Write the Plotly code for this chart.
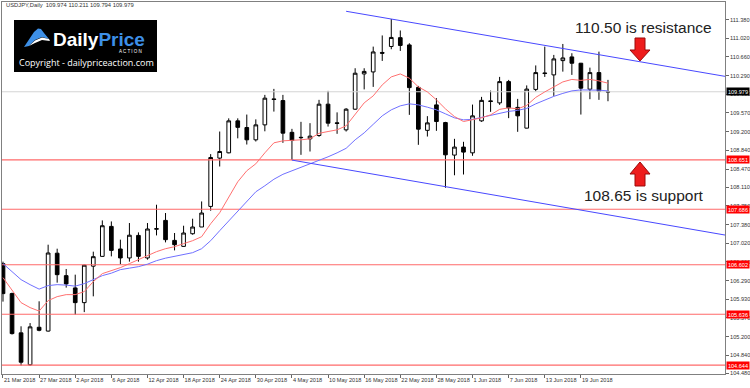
import plotly.graph_objects as go

# ---------------- data ----------------
dates = ["2018-03-21","2018-03-22","2018-03-23","2018-03-26","2018-03-27","2018-03-28","2018-03-29","2018-03-30",
         "2018-04-02","2018-04-03","2018-04-04","2018-04-05","2018-04-06","2018-04-09","2018-04-10","2018-04-11",
         "2018-04-12","2018-04-13","2018-04-16","2018-04-17","2018-04-18","2018-04-19","2018-04-20","2018-04-23",
         "2018-04-24","2018-04-25","2018-04-26","2018-04-27","2018-04-30","2018-05-01","2018-05-02","2018-05-03",
         "2018-05-04","2018-05-07","2018-05-08","2018-05-09","2018-05-10","2018-05-11","2018-05-14","2018-05-15",
         "2018-05-16","2018-05-17","2018-05-18","2018-05-21","2018-05-22","2018-05-23","2018-05-24","2018-05-25",
         "2018-05-28","2018-05-29","2018-05-30","2018-05-31","2018-06-01","2018-06-04","2018-06-05","2018-06-06",
         "2018-06-07","2018-06-08","2018-06-11","2018-06-12","2018-06-13","2018-06-14","2018-06-15","2018-06-18",
         "2018-06-19","2018-06-20","2018-06-21","2018-06-22"]

open_ = [106.624,106.039,105.273,104.650,105.382,105.308,106.828,106.390,106.150,105.863,106.575,106.766,
         107.351,106.910,106.735,107.175,106.735,107.296,107.468,107.078,106.961,107.208,107.339,107.741,
         108.684,108.787,109.411,109.281,109.041,109.333,109.840,109.807,109.187,109.090,109.060,109.125,
         109.737,109.372,109.236,109.639,110.327,110.366,110.746,110.863,111.035,110.893,110.064,109.226,
         109.723,109.378,108.743,108.899,108.787,109.411,109.801,109.762,110.177,109.674,109.269,110.025,
         110.347,110.308,110.587,110.659,110.536,110.029,110.353,109.974]
high = [106.663,106.058,105.401,105.464,105.889,106.994,106.916,106.520,106.409,106.604,106.858,107.468,
        107.448,107.092,107.417,107.234,107.417,107.774,107.612,107.222,107.364,107.501,107.838,108.762,
        109.203,109.460,109.460,109.534,109.440,109.918,110.035,109.918,109.255,109.392,109.366,109.821,
        109.996,109.577,109.659,110.438,110.438,110.860,111.078,111.399,111.175,110.926,110.093,109.503,
        109.854,109.392,109.060,109.002,109.729,109.879,110.002,110.269,110.210,109.840,110.103,110.493,
        110.860,110.698,110.912,110.731,110.542,110.450,110.762,110.211]
low = [105.883,105.240,104.635,104.630,105.304,105.298,106.253,106.156,105.630,105.678,105.986,106.760,
       106.766,106.614,106.663,106.663,106.702,107.175,107.039,106.883,106.955,107.189,107.339,107.657,
       108.520,108.778,109.070,108.949,109.008,109.207,109.592,108.982,108.645,108.748,108.813,109.099,
       109.300,109.158,109.203,109.626,110.025,110.074,110.581,110.809,110.776,109.528,108.943,109.105,
       109.216,108.105,108.349,108.364,108.729,109.392,109.587,109.723,109.464,109.197,109.265,109.986,
       110.269,109.899,110.372,110.308,109.534,109.834,109.821,109.794]
close = [106.039,105.259,104.700,105.390,105.323,106.832,106.409,106.228,105.863,106.594,106.760,107.364,
         106.883,106.735,107.179,106.766,107.300,107.306,107.092,106.994,107.222,107.339,107.612,108.696,
         108.813,109.411,109.284,109.041,109.333,109.854,109.828,109.171,109.027,109.084,109.113,109.737,
         109.366,109.362,109.639,110.341,110.376,110.756,110.731,111.039,110.883,110.060,109.249,109.372,
         109.398,108.748,108.899,108.801,109.509,109.811,109.791,110.177,109.665,109.509,110.031,110.353,
         110.335,110.620,110.639,110.536,110.049,110.353,109.990,109.979]

ma_fast = [106.351,106.097,105.863,105.766,105.698,105.902,105.980,106.019,106.019,106.078,106.273,106.429,
           106.487,106.546,106.624,106.702,106.780,106.858,106.916,106.955,107.014,107.072,107.150,107.403,
           107.618,107.910,108.222,108.437,108.573,108.787,108.982,109.021,109.027,109.041,109.060,109.168,
           109.203,109.236,109.314,109.528,109.762,109.899,110.113,110.269,110.327,110.244,110.074,109.976,
           109.821,109.645,109.495,109.398,109.431,109.470,109.528,109.635,109.665,109.645,109.713,109.869,
           109.976,110.074,110.171,110.220,110.201,110.220,110.191,110.146]
ma_slow = [106.624,106.468,106.312,106.214,106.127,106.195,106.214,106.205,106.185,106.234,106.312,106.390,
           106.438,106.507,106.536,106.565,106.614,106.682,106.731,106.766,106.799,106.838,106.916,107.072,
           107.267,107.462,107.657,107.852,108.027,108.144,108.271,108.368,108.437,108.495,108.563,108.641,
           108.709,108.787,108.875,109.041,109.177,109.343,109.509,109.626,109.704,109.743,109.723,109.678,
           109.626,109.548,109.470,109.431,109.440,109.479,109.518,109.561,109.596,109.616,109.655,109.743,
           109.821,109.889,109.947,109.996,110.015,110.015,110.010,109.996]

levels = [108.651, 107.686, 106.602, 105.636, 104.644]
last_price = 109.979

channel_upper_x = [38, 82]
channel_upper_y = [111.55, 110.218]
channel_lower_x = [32, 82]
channel_lower_y = [108.645, 107.12]

tick_idx = [0, 4, 8, 12, 16, 20, 24, 28, 32, 36, 40, 44, 48, 52, 56, 60, 64]
tick_labels = ["21 Mar 2018", "27 Mar 2018", "2 Apr 2018", "6 Apr 2018", "12 Apr 2018", "18 Apr 2018",
               "24 Apr 2018", "30 Apr 2018", "4 May 2018", "10 May 2018", "16 May 2018", "22 May 2018",
               "28 May 2018", "1 Jun 2018", "7 Jun 2018", "13 Jun 2018", "19 Jun 2018"]
price_ticks = [111.380, 111.020, 110.660, 110.290, 109.930, 109.570, 109.200, 108.840, 108.470, 108.110,
               107.750, 107.380, 107.020, 106.660, 106.290, 105.930, 105.570, 105.200, 104.840, 104.480]

header = "USDJPY,Daily  109.974 110.211 109.794 109.979"

# ---------------- figure ----------------
W, H = 750, 388
ML, MR, MT, MB = 2, 25, 2, 14
PW, PH = W - ML - MR, H - MT - MB

def px(x):
    return (x - ML) / PW

def py(y):
    return 1 - (y - MT) / PH

def path(points):
    s = "M " + " L ".join(f"{px(a):.5f},{py(b):.5f}" for a, b in points) + " Z"
    return s

xi = list(range(len(dates)))
FONT = "Liberation Sans, Arial, sans-serif"
RED = "#ff6a6a"

fig = go.Figure()

for lv in levels:
    fig.add_trace(go.Scatter(x=[-2, 85], y=[lv, lv], mode="lines",
                             line=dict(color=RED, width=1.2), hoverinfo="skip"))
fig.add_trace(go.Scatter(x=[-2, 85], y=[last_price, last_price], mode="lines",
                         line=dict(color="#d4d4d4", width=1.2), hoverinfo="skip"))
fig.add_trace(go.Scatter(x=xi, y=ma_slow, mode="lines", line=dict(color="#7070ff", width=1)))
fig.add_trace(go.Scatter(x=xi, y=ma_fast, mode="lines", line=dict(color="#ff7070", width=1)))
fig.add_trace(go.Scatter(x=channel_upper_x, y=channel_upper_y, mode="lines", line=dict(color="#4848ff", width=1)))
fig.add_trace(go.Scatter(x=channel_lower_x, y=channel_lower_y, mode="lines", line=dict(color="#4848ff", width=1)))

fig.add_trace(go.Candlestick(
    x=xi, open=open_, high=high, low=low, close=close,
    increasing=dict(line=dict(color="#000000", width=1), fillcolor="#ffffff"),
    decreasing=dict(line=dict(color="#000000", width=1), fillcolor="#000000"),
    whiskerwidth=0,
))

fig.update_layout(
    width=W, height=H, margin=dict(l=ML, r=MR, t=MT, b=MB, autoexpand=False),
    paper_bgcolor="white", plot_bgcolor="white", showlegend=False,
    boxgap=0.42,
    font=dict(family=FONT, size=6, color="#333333"),
    xaxis=dict(range=[-0.11, 79.96], rangeslider=dict(visible=False), showgrid=False, zeroline=False,
               tickmode="array", tickvals=tick_idx, ticktext=tick_labels, ticks="outside", ticklen=3,
               tickcolor="#666666", ticklabelposition="outside right", tickangle=0, automargin=False,
               tickfont=dict(size=5.6, color="#333333", family=FONT),
               showline=True, linecolor="#808080", linewidth=1, mirror=True),
    yaxis=dict(range=[104.47, 111.731], side="right", showgrid=False, zeroline=False, automargin=False,
               tickmode="array", tickvals=price_ticks, tickformat=".3f", ticks="outside", ticklen=3,
               tickcolor="#666666", tickfont=dict(size=5.6, color="#333333", family=FONT),
               showline=True, linecolor="#808080", linewidth=1, mirror=True),
)

# price boxes on the right axis
for lv in levels:
    fig.add_annotation(x=1, xref="paper", y=lv, yref="y", xanchor="left", yanchor="middle",
                       text=f"{lv:.3f}", showarrow=False, bgcolor="#ff0000", width=22, height=7,
                       borderpad=0, xshift=1, font=dict(size=5.6, color="white", family=FONT))
fig.add_annotation(x=1, xref="paper", y=last_price, yref="y", xanchor="left", yanchor="middle",
                   text=f"{last_price:.3f}", showarrow=False, bgcolor="#000000", width=22, height=7,
                   borderpad=0, xshift=1, font=dict(size=5.6, color="white", family=FONT))

# header
fig.add_annotation(x=px(4), y=py(5), xref="paper", yref="paper", xanchor="left", yanchor="middle",
                   text=header, showarrow=False, font=dict(size=5.8, color="#333333", family=FONT))

# commentary
fig.add_annotation(x=px(573), y=py(28), xref="paper", yref="paper", xanchor="left", yanchor="middle",
                   text="110.50 is resistance", showarrow=False,
                   font=dict(size=15.5, color="#222222", family=FONT))
fig.add_annotation(x=px(582), y=py(195), xref="paper", yref="paper", xanchor="left", yanchor="middle",
                   text="108.65 is support", showarrow=False,
                   font=dict(size=15.5, color="#222222", family=FONT))

# red block arrows
down = [(635, 38), (645, 38), (645, 50), (650, 50), (640, 61), (630, 50), (635, 50)]
up = [(635, 186), (645, 186), (645, 174), (650, 174), (640, 162), (630, 174), (635, 174)]
for pts in (down, up):
    fig.add_shape(type="path", path=path(pts), xref="paper", yref="paper",
                  fillcolor="#ee1c1c", line=dict(color="#9a0a0a", width=1))

# logo
fig.add_shape(type="rect", x0=px(14), x1=px(157), y0=py(72), y1=py(20), xref="paper", yref="paper",
              fillcolor="#000000", line=dict(width=0))
sail = [(24, 47), (30, 38), (34, 32), (38, 28.5), (41, 29), (44, 33), (49, 39), (42, 37), (35, 40), (29, 46)]
fig.add_shape(type="path", path=path(sail), xref="paper", yref="paper",
              fillcolor="#3d8fe6", line=dict(width=0))
swoosh = [(29, 46), (35, 40.5), (42, 37.5), (49, 39), (50, 41), (42, 40), (35, 43)]
fig.add_shape(type="path", path=path(swoosh), xref="paper", yref="paper",
              fillcolor="#ffffff", line=dict(width=0))
fig.add_annotation(x=px(51), y=py(39.5), xref="paper", yref="paper", xanchor="left", yanchor="middle",
                   text="<b>Daily<span style='color:#3d8fe6'>Price</span></b>", showarrow=False,
                   font=dict(size=19, color="white", family=FONT))
fig.add_annotation(x=px(144), y=py(51.5), xref="paper", yref="paper", xanchor="right", yanchor="middle",
                   text="A C T I O N", showarrow=False, font=dict(size=4.5, color="white", family=FONT))
fig.add_annotation(x=px(86), y=py(63), xref="paper", yref="paper", xanchor="center", yanchor="middle",
                   text="Copyright - dailypriceaction.com", showarrow=False,
                   font=dict(size=9, color="white", family="Open Sans, sans-serif"))

fig.write_html("out.html")
